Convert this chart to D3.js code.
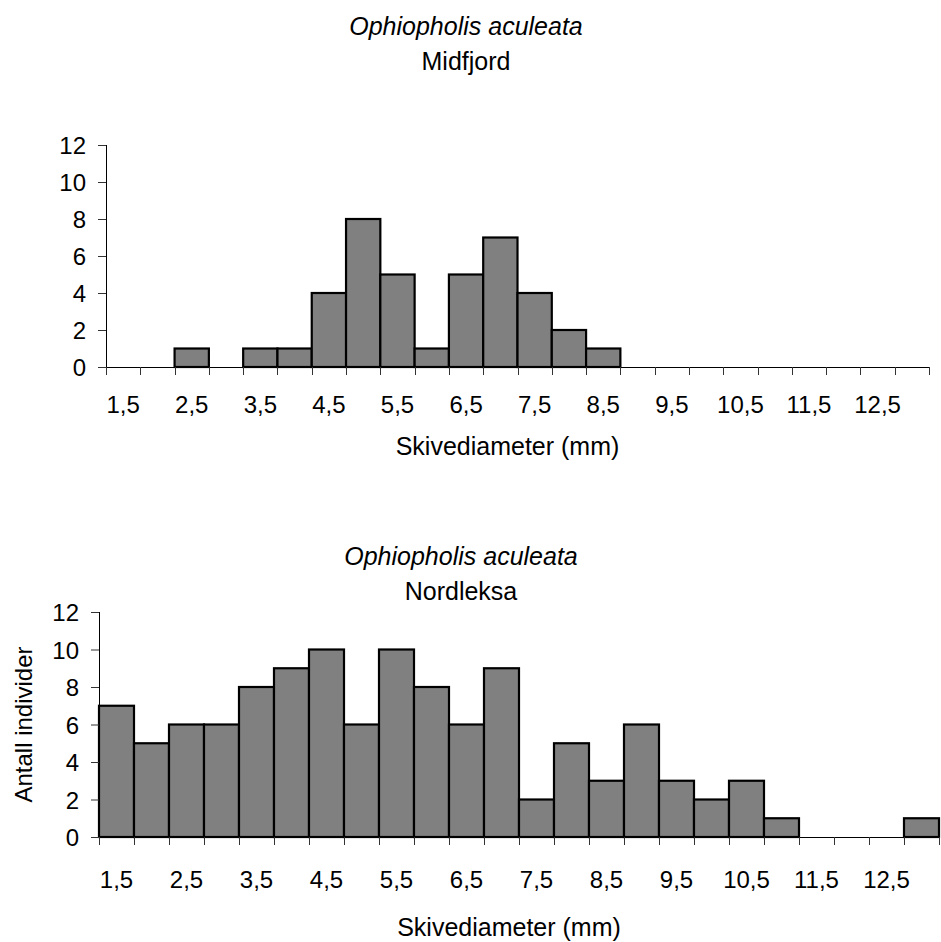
<!DOCTYPE html>
<html>
<head>
<meta charset="utf-8">
<script src="https://cdn.jsdelivr.net/npm/d3@7"></script>
<style>
  body { margin: 0; background: #fff; }
  text { font-family: "Liberation Sans", Arial, sans-serif; fill: #000; }
</style>
</head>
<body>
<div id="chart"></div>
<script>
// size classes (mm), one bar per class
const classes = [1.5, 2, 2.5, 3, 3.5, 4, 4.5, 5, 5.5, 6, 6.5, 7, 7.5, 8, 8.5, 9, 9.5, 10, 10.5, 11, 11.5, 12, 12.5, 13];

// counts per class
const midfjord  = [0, 0, 1, 0, 1, 1, 4, 8, 5, 1, 5, 7, 4, 2, 1, 0, 0, 0, 0, 0, 0, 0, 0, 0];
const nordleksa = [7, 5, 6, 6, 8, 9, 10, 6, 10, 8, 6, 9, 2, 5, 3, 6, 3, 2, 3, 1, 0, 0, 0, 1];

const yTicks = [0, 2, 4, 6, 8, 10, 12];
const species = "Ophiopholis aculeata";
const xTitle = "Skivediameter (mm)";
const yTitle = "Antall individer";

const W = 941, H = 942;
const TICK_FONT = "24px", TITLE_FONT = "25px";

const svg = d3.select("#chart").append("svg")
  .attr("width", W)
  .attr("height", H);

function drawPanel(opts) {
  const { values, site, left, right, top, bottom, titleX, titleY, xLabelY, xTitleY, yLabel } = opts;

  const x = d3.scaleBand()
    .domain(classes)
    .range([left, right])
    .paddingInner(0)
    .paddingOuter(0);

  const y = d3.scaleLinear()
    .domain([0, 12])
    .range([bottom, top]);

  const g = svg.append("g");

  // bars
  g.selectAll("rect")
    .data(classes.map((c, i) => ({ c, v: values[i] })).filter(d => d.v > 0))
    .enter()
    .append("rect")
      .attr("x", d => x(d.c))
      .attr("y", d => y(d.v))
      .attr("width", x.bandwidth())
      .attr("height", d => y(0) - y(d.v))
      .attr("fill", "#808080")
      .attr("stroke", "#000")
      .attr("stroke-width", 2.2);

  // y axis
  const yAxis = g.append("g")
    .attr("transform", `translate(${left},0)`)
    .call(d3.axisLeft(y).tickValues(yTicks).tickSize(8).tickPadding(12));
  yAxis.select(".domain").attr("stroke", "#000").attr("d", `M0.5,${top}V${bottom}`);
  yAxis.selectAll(".tick line").attr("stroke", "#333");
  yAxis.selectAll("text")
    .attr("font-family", null)
    .style("font-size", TICK_FONT)
    .attr("dy", "0.36em");

  // x axis line
  g.append("line")
    .attr("x1", left).attr("x2", right)
    .attr("y1", bottom + 0.5).attr("y2", bottom + 0.5)
    .attr("stroke", "#000");

  // ticks at class boundaries
  const bounds = classes.map(c => x(c)).concat([x.range()[1]]);
  g.selectAll(".xb")
    .data(bounds)
    .enter()
    .append("line")
      .attr("class", "xb")
      .attr("x1", d => Math.round(d) + 0.5).attr("x2", d => Math.round(d) + 0.5)
      .attr("y1", bottom).attr("y2", bottom + 8)
      .attr("stroke", "#333");

  // class labels, every other class
  g.selectAll(".xl")
    .data(classes.filter(c => c % 1 === 0.5))
    .enter()
    .append("text")
      .attr("class", "xl")
      .attr("x", d => x(d) + x.bandwidth() / 2)
      .attr("y", xLabelY)
      .attr("text-anchor", "middle")
      .style("font-size", TICK_FONT)
      .text(d => String(d).replace(".", ","));

  g.append("text")
    .attr("x", (left + right) / 2 - 10)
    .attr("y", xTitleY)
    .attr("text-anchor", "middle")
    .style("font-size", TITLE_FONT)
    .text(xTitle);

  // titles
  g.append("text")
    .attr("x", titleX).attr("y", titleY)
    .attr("text-anchor", "middle")
    .style("font-size", TITLE_FONT)
    .style("font-style", "italic")
    .text(species);
  g.append("text")
    .attr("x", titleX).attr("y", titleY + 35)
    .attr("text-anchor", "middle")
    .style("font-size", TITLE_FONT)
    .text(site);

  if (yLabel) {
    g.append("text")
      .attr("transform", `translate(32,${(top + bottom) / 2}) rotate(-90)`)
      .attr("text-anchor", "middle")
      .style("font-size", TICK_FONT)
      .text(yTitle);
  }
}

drawPanel({
  values: midfjord, site: "Midfjord",
  left: 106, right: 929, top: 145, bottom: 367,
  titleX: 466, titleY: 35, xLabelY: 413, xTitleY: 455, yLabel: false
});

drawPanel({
  values: nordleksa, site: "Nordleksa",
  left: 99, right: 939, top: 612, bottom: 837,
  titleX: 461, titleY: 565, xLabelY: 888, xTitleY: 936, yLabel: true
});
</script>
</body>
</html>
